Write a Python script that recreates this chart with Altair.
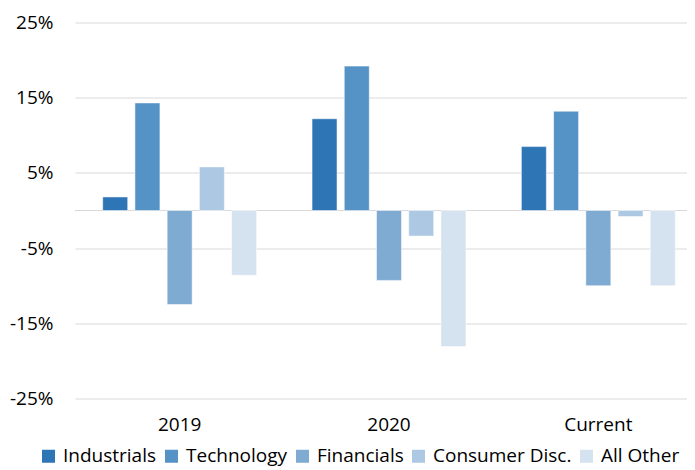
import altair as alt
import pandas as pd

periods = ["2019", "2020", "Current"]
sectors = ["Industrials", "Technology", "Financials", "Consumer Disc.", "All Other"]
industrials = [1.8, 12.2, 8.5]
technology = [14.3, 19.2, 13.2]
financials = [-12.5, -9.3, -10.0]
consumer_disc = [5.8, -3.4, -0.8]
all_other = [-8.6, -18.1, -10.0]
y_ticks = [-25, -15, -5, 5, 15, 25]
colors = ["#2E75B6", "#5592C6", "#7FAAD1", "#ADC8E3", "#D5E2F0"]

series = [industrials, technology, financials, consumer_disc, all_other]
rows = []
for s, vals in zip(sectors, series):
    for p, v in zip(periods, vals):
        rows.append({"period": p, "sector": s, "value": v})
df = pd.DataFrame(rows)

FONT = "Open Sans"
GRID = "#D9D9D9"
FS = 19

y_enc = alt.Y(
    "value:Q",
    scale=alt.Scale(domain=[-25, 25], nice=False),
    axis=alt.Axis(
        title=None, values=y_ticks, labelExpr="datum.value + '%'",
        grid=True, gridColor=GRID, gridWidth=1, domain=False, ticks=False,
        labelPadding=22, labelFontSize=FS, labelFont=FONT, labelColor="#000000",
    ),
)

zero_rule = alt.Chart(df).mark_rule(color=GRID, strokeWidth=1.2).encode(y=alt.datum(0))

bars = alt.Chart(df).mark_bar(stroke="white", strokeWidth=1, strokeOpacity=0.5).encode(
    x=alt.X(
        "period:N", sort=periods,
        scale=alt.Scale(range=[0, 628], paddingInner=0, paddingOuter=0),
        axis=alt.Axis(
            title=None, labelAngle=0, domain=False, ticks=False, grid=False,
            labelPadding=17, labelFontSize=FS, labelFont=FONT, labelColor="#000000",
        ),
    ),
    xOffset=alt.XOffset(
        "sector:N", sort=sectors,
        scale=alt.Scale(paddingInner=0.225, paddingOuter=0.86),
    ),
    y=y_enc,
    color=alt.Color(
        "sector:N", sort=sectors,
        scale=alt.Scale(domain=sectors, range=colors),
        legend=alt.Legend(
            title=None, orient="none", legendX=-36, legendY=424,
            direction="horizontal", columns=5,
            symbolType="square", symbolSize=169, symbolStrokeWidth=0,
            labelFontSize=FS, labelFont=FONT, labelColor="#000000",
            columnPadding=5, labelOffset=5,
        ),
    ),
)

chart = (
    alt.layer(zero_rule, bars)
    .properties(
        width=612, height=376,
        autosize=alt.AutoSizeParams(type="none"),
        padding={"left": 67, "top": 14.5, "right": 0, "bottom": 70},
    )
    .configure_view(stroke=None)
)

chart.save("out.html", embed_options={"renderer": "svg", "actions": False})
